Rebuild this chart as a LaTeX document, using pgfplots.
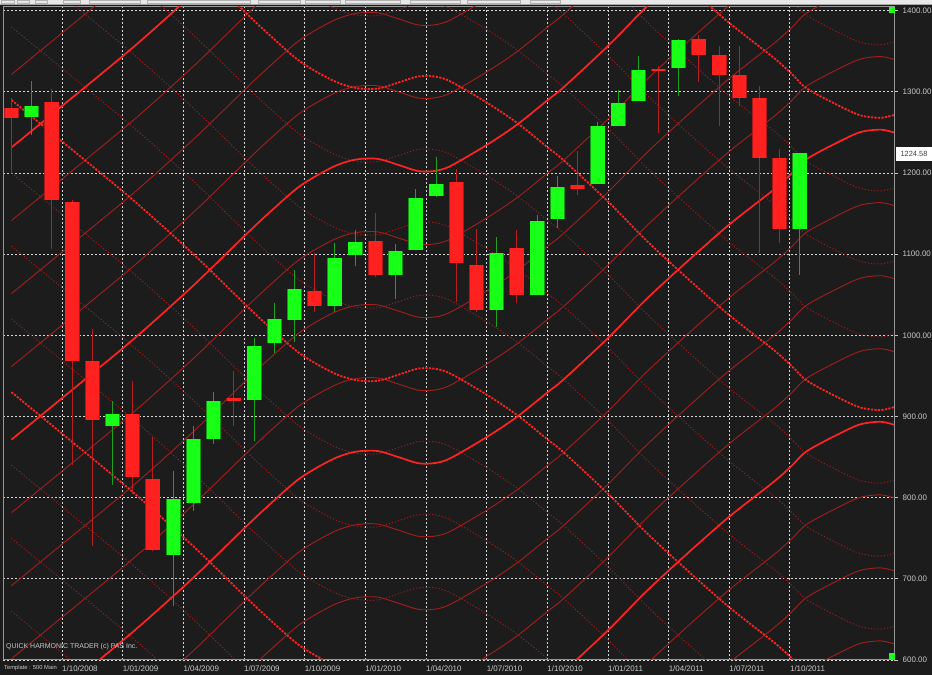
\documentclass[border=0pt]{standalone}
\usepackage{pgfplots}
\pgfplotsset{compat=1.18}
\usepackage{pgfplotstable}
\usepackage{fontspec}
\setmainfont{Liberation Sans}
\definecolor{bgc}{RGB}{28,28,28}
\definecolor{thk}{RGB}{255,36,36}
\definecolor{thn}{RGB}{165,30,30}
\definecolor{dtn}{RGB}{160,28,28}
\definecolor{cred}{RGB}{255,32,32}
\definecolor{cgrn}{RGB}{24,255,24}
\definecolor{ored}{RGB}{170,25,25}
\definecolor{ogrn}{RGB}{20,150,20}
\definecolor{wred}{RGB}{185,30,30}
\definecolor{wgrn}{RGB}{30,160,30}
\definecolor{lab}{RGB}{200,200,200}
\definecolor{grd}{RGB}{215,215,215}
\definecolor{axc}{RGB}{150,150,150}
\definecolor{topc}{RGB}{232,232,232}
\definecolor{sqg}{RGB}{30,255,30}

% harmonic curve shape: offset from its hump level
\pgfplotstableread{
i d
0 -346
2.4 -297
6 -223
9 -156
11.65 -92
12.9 -63
14.3 -33
15.9 -10
17.0 -1
18.1 0
19.2 -8
20.1 -15
20.9 -15
21.7 -9
23.5 17
25.0 42
26.5 72
27.3 88
29.5 139
31.4 187
33.4 233
35.5 279
37.7 322
38.6 342
39.35 360
41.0 382
42.0 393
43.0 396
43.7 392
}\asc

% red candles: index, body low, body length, wick low, wick length
\pgfplotstableread{
i lo len wlo wlen
0 1267.38 12.62 1200.44 91.73
2 1166.36 121.47 1106.42 196.62
3 968.75 195.42 839.80 327.23
4 896.24 72.43 741.02 266.49
6 825.88 77.11 804.47 139.38
7 735.09 88.00 734.52 140.49
11 919.32 3.94 888.86 67.37
15 1036.19 18.72 1029.38 71.98
18 1073.87 42.69 1071.59 78.86
22 1089.41 99.17 1040.78 164.35
23 1030.71 56.59 1028.33 102.90
25 1049.33 58.20 1039.70 89.54
28 1180.55 5.16 1173.00 54.08
32 1325.83 2.81 1249.05 83.23
34 1345.20 20.01 1311.80 58.78
35 1320.64 24.56 1258.07 98.41
36 1292.28 28.36 1282.86 73.62
37 1218.89 73.70 1101.54 205.84
38 1131.42 87.70 1114.22 115.07
}\redc

\pgfplotstableread{
i lo len wlo wlen
1 1269.42 13.41 1247.45 65.70
5 888.61 14.64 815.69 103.16
8 729.57 68.30 666.79 166.19
9 793.59 79.22 783.32 105.38
10 872.74 46.40 866.10 64.07
12 920.82 66.66 869.32 127.36
13 990.22 30.40 978.51 60.96
14 1019.52 37.56 991.97 88.18
16 1036.18 59.45 1029.38 84.31
17 1098.89 16.21 1085.89 44.49
19 1073.89 30.60 1044.50 67.92
20 1105.36 64.07 1105.36 75.33
21 1171.23 15.46 1170.69 49.11
24 1031.10 70.50 1010.91 110.04
26 1049.72 91.48 1049.72 99.18
27 1143.49 39.77 1131.87 64.27
29 1186.60 71.04 1186.60 76.00
30 1257.62 28.50 1257.62 45.05
31 1289.14 38.08 1289.14 54.93
33 1329.48 34.13 1294.70 69.86
39 1131.21 93.37 1074.77 149.84
}\grnc

\begin{document}
\begin{tikzpicture}
\fill[bgc] (0,0) rectangle (932bp,675bp);
\fill[topc] (0,671.3bp) rectangle (932bp,675bp);
\fill[gray!70] (0,670.6bp) rectangle (932bp,671.3bp);
\foreach \a/\b in {1/14,17/29,35/47,63/80,89/140,147/250,258/300,305/340,345/400,410/460,467/520,530/560}{
  \draw[gray!60, line width=0.5bp] (\a bp,671.3bp) rectangle (\b bp,675bp);
}
\begin{axis}[
  at={(3bp,15bp)}, anchor=south west,
  scale only axis, width=891bp, height=653bp,
  xmin=-0.418, xmax=43.65, ymin=600, ymax=1404.6,
  axis line style={draw=axc, line width=1bp},
  xtick={2.5,5.5,8.5,11.5,14.5,17.5,20.5,23.5,26.5,29.5,32.5,35.5,38.5},
  xticklabels={1/10/2008,1/01/2009,1/04/2009,1/07/2009,1/10/2009,1/01/2010,1/04/2010,1/07/2010,1/10/2010,1/01/2011,1/04/2011,1/07/2011,1/10/2011},
  ytick={600,700,800,900,1000,1100,1200,1300,1400},
  yticklabels={600.00,700.00,800.00,900.00,1000.00,1100.00,1200.00,1300.00,1400.00},
  ytick pos=right, xtick pos=bottom,
  tick align=outside, major tick length=4bp,
  xtick style={draw=none},
  ytick style={draw=lab, line width=0.8bp},
  xmajorgrids, ymajorgrids,
  major grid style={draw=grd, line width=0.8bp, dash pattern=on 1.6bp off 2.4bp},
  tick label style={font=\fontsize{8}{9}\selectfont, text=lab},
  xticklabel style={anchor=north west, inner sep=0pt, yshift=-2bp},
  yticklabel style={anchor=west, inner sep=0pt, xshift=4.5bp},
]
% ascending harmonic curves (thin)
\pgfplotsinvokeforeach{227.5,317.5,407.5,587.5,677.5,767.5,947.5,1037.5,1127.5,1307.5,1397.5,1487.5,1667.5}{
  \addplot[thn, line width=0.9bp, smooth, tension=0.5] table[x=i, y expr=\thisrow{d}+#1]{\asc};
}
% descending harmonic curves (thin dotted)
\pgfplotsinvokeforeach{314,404,494,674,764,854,1034,1124,1214,1394,1484,1574,1754}{
  \addplot[dtn, line width=0.9bp, dash pattern=on 1.2bp off 2bp, smooth, tension=0.5] table[x=i, y expr=#1-\thisrow{d}]{\asc};
}
% descending harmonic curves (thick dotted)
\pgfplotsinvokeforeach{584,944,1304,1664}{
  \addplot[thk, line width=1.8bp, dash pattern=on 2.2bp off 1.3bp, smooth, tension=0.5] table[x=i, y expr=#1-\thisrow{d}]{\asc};
}
% ascending harmonic curves (thick)
\pgfplotsinvokeforeach{497.5,857.5,1217.5,1577.5}{
  \addplot[thk, line width=1.7bp, smooth, tension=0.5] table[x=i, y expr=\thisrow{d}+#1]{\asc};
}
% wicks
\addplot[draw=none, mark=none, forget plot, error bars/.cd, y dir=plus, y explicit, error mark=none,
  error bar style={draw=wred, line width=1bp}] table[x=i, y=wlo, y error plus=wlen]{\redc};
\addplot[draw=none, mark=none, forget plot, error bars/.cd, y dir=plus, y explicit, error mark=none,
  error bar style={draw=wgrn, line width=1bp}] table[x=i, y=wlo, y error plus=wlen]{\grnc};
% bodies: darker edge, then bright fill
\addplot[draw=none, mark=none, forget plot, error bars/.cd, y dir=plus, y explicit, error mark=none,
  error bar style={draw=ored, line width=15bp}] table[x=i, y=lo, y error plus=len]{\redc};
\addplot[draw=none, mark=none, forget plot, error bars/.cd, y dir=plus, y explicit, error mark=none,
  error bar style={draw=ogrn, line width=15bp}] table[x=i, y=lo, y error plus=len]{\grnc};
\addplot[draw=none, mark=none, forget plot, error bars/.cd, y dir=plus, y explicit, error mark=none,
  error bar style={draw=cred, line width=13.4bp}] table[x=i, y=lo, y error plus=len]{\redc};
\addplot[draw=none, mark=none, forget plot, error bars/.cd, y dir=plus, y explicit, error mark=none,
  error bar style={draw=cgrn, line width=13.4bp}] table[x=i, y=lo, y error plus=len]{\grnc};
\end{axis}
\fill[sqg] (889bp,662bp) rectangle (895bp,668bp);
\fill[sqg] (889bp,15bp) rectangle (895bp,22bp);
\fill[white] (896bp,514bp) rectangle (932bp,528bp);
\node[anchor=center, inner sep=0pt, text=black!75, font=\fontsize{7.5}{8}\selectfont] at (914bp,521bp) {1224.58};
\node[anchor=west, inner sep=0pt, text=lab, font=\fontsize{7}{8}\selectfont] at (6bp,28bp) {QUICK HARMONIC TRADER (c) PAS Inc.};
\node[anchor=west, inner sep=0pt, text=lab, font=\fontsize{5.8}{7}\selectfont] at (4bp,7bp) {Template : 500 Main};
\pgfresetboundingbox
\useasboundingbox (0,0) rectangle (932bp,675bp);
\end{tikzpicture}
\end{document}
